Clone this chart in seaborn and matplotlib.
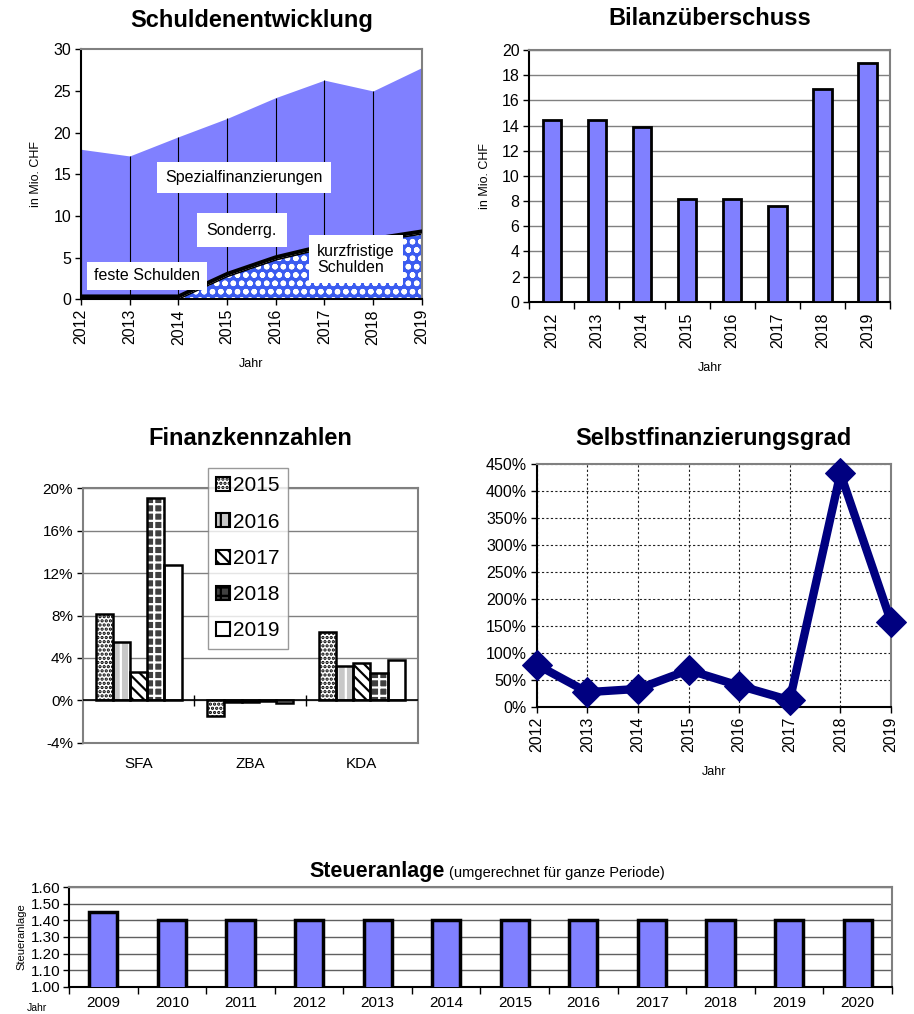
import numpy as np
import pandas as pd
import matplotlib
matplotlib.use("Agg")
import matplotlib.pyplot as plt
from matplotlib.patches import Rectangle, Patch
from matplotlib.ticker import FuncFormatter
import seaborn as sns

sns.set_theme(style="white")
plt.rcParams['font.family'] = ['Liberation Sans', 'DejaVu Sans']
plt.rcParams['hatch.linewidth'] = 1.6
plt.rcParams['text.color'] = 'black'
plt.rcParams['axes.labelcolor'] = 'black'
plt.rcParams['xtick.color'] = 'black'
plt.rcParams['ytick.color'] = 'black'

# ---------------- data ----------------
years = [2012, 2013, 2014, 2015, 2016, 2017, 2018, 2019]
kurzfristige = [0.0, 0.0, 0.0, 2.7, 4.7, 6.1, 6.9, 7.8]
feste = [0.2, 0.2, 0.2, 0.2, 0.2, 0.2, 0.2, 0.2]
sonder = [0.2, 0.2, 0.2, 0.2, 0.2, 0.2, 0.2, 0.2]
spezial = [17.6, 16.8, 19.1, 18.6, 19.1, 19.8, 17.7, 19.6]

bilanz = [14.4, 14.4, 13.9, 8.2, 8.2, 7.6, 16.9, 19.0]

kz_cats = ["SFA", "ZBA", "KDA"]
kz_years = ["2015", "2016", "2017", "2018", "2019"]
kz_2015 = [8.1, -1.5, 6.4]
kz_2016 = [5.5, -0.2, 3.2]
kz_2017 = [2.7, -0.2, 3.5]
kz_2018 = [19.1, -0.1, 2.6]
kz_2019 = [12.8, -0.3, 3.8]

sfg = [78, 27, 33, 68, 39, 12, 433, 158]

st_years = [2009, 2010, 2011, 2012, 2013, 2014, 2015, 2016, 2017, 2018, 2019, 2020]
st_vals = [1.45, 1.40, 1.40, 1.40, 1.40, 1.40, 1.40, 1.40, 1.40, 1.40, 1.40, 1.40]

W, H = 914, 1014
fig = plt.figure(figsize=(W / 100, H / 100), dpi=100)


def ax_px(l, t, r, b):
    return fig.add_axes([l / W, 1 - b / H, (r - l) / W, (b - t) / H])


PURPLE = '#8080ff'
GRAYB = '#808080'
TSIZE = 17

# ---------------- Schuldenentwicklung ----------------
ax1 = ax_px(81, 49.3, 421.7, 299.3)
polys = ax1.stackplot(years, kurzfristige, feste, sonder, spezial,
                      colors=['#3b5cf0', 'black', '#d8d8d8', PURPLE], linewidth=0)
polys[0].set_edgecolor('white')
polys[0].set_hatch('oo')
polys[0].set_linewidth(0)
lower = np.array(kurzfristige) + np.array(feste) + np.array(sonder)
total = lower + np.array(spezial)
ax1.plot(years, lower, color='black', lw=2.2, zorder=3)
ax1.plot(years, np.array(kurzfristige) + np.array(feste), color='black', lw=1.2, zorder=3)
ax1.vlines(years, lower, total, color='black', lw=0.8, zorder=3)
ax1.set_xlim(2012, 2019)
ax1.set_ylim(0, 30)
ax1.set_yticks([0, 5, 10, 15, 20, 25, 30])
ax1.set_xticks(years)
ax1.set_xticklabels([str(y) for y in years], rotation=90, fontsize=11.5)
ax1.tick_params(axis='y', labelsize=11.5, length=4, width=1, color='black', direction='out', left=True, pad=3)
ax1.tick_params(axis='x', length=4, width=1, color='black', direction='out', bottom=True, pad=3)
for s in ['left', 'bottom']:
    ax1.spines[s].set_color('black')
    ax1.spines[s].set_linewidth(1.5)
for s in ['top', 'right']:
    ax1.spines[s].set_color(GRAYB)
    ax1.spines[s].set_linewidth(1.5)
ax1.set_ylabel("in Mio. CHF", fontsize=9, labelpad=8)
ax1.set_xlabel("Jahr", fontsize=9, labelpad=10)
ax1.set_title("Schuldenentwicklung", fontsize=TSIZE, fontweight='bold', pad=16)
ax1.text(2015.35, 14.6, "Spezialfinanzierungen", fontsize=11.5, ha='center', va='center',
         bbox=dict(facecolor='white', edgecolor='none', pad=6), zorder=5)
ax1.text(2015.3, 8.3, "Sonderrg.", fontsize=11.5, ha='center', va='center',
         bbox=dict(facecolor='white', edgecolor='none', pad=7), zorder=5)
ax1.text(2013.35, 2.8, "feste Schulden", fontsize=11.5, ha='center', va='center',
         bbox=dict(facecolor='white', edgecolor='none', pad=5), zorder=5)
ax1.text(2016.85, 4.8, "kurzfristige\nSchulden", fontsize=11.5, ha='left', va='center', linespacing=1.1,
         bbox=dict(facecolor='white', edgecolor='none', pad=6), zorder=5)

# ---------------- Bilanzüberschuss ----------------
ax2 = ax_px(529.3, 50, 890, 301.7)
df2 = pd.DataFrame({"Jahr": [str(y) for y in years], "v": bilanz})
sns.barplot(data=df2, x="Jahr", y="v", color=PURPLE, saturation=1, width=0.41,
            edgecolor='black', linewidth=2, ax=ax2, zorder=3)
ax2.set_xlim(-0.5, len(years) - 0.5)
ax2.set_ylim(0, 20)
ax2.set_yticks(range(0, 21, 2))
ax2.yaxis.grid(True, color=GRAYB, lw=1)
ax2.set_axisbelow(True)
ax2.set_xticklabels([str(y) for y in years], rotation=90, fontsize=11.5)
ax2.tick_params(axis='x', length=0, pad=8)
ax2.set_xticks(np.arange(len(years) + 1) - 0.5, minor=True)
ax2.tick_params(axis='x', which='minor', length=5, width=1, color='black', bottom=True, direction='out')
ax2.tick_params(axis='y', labelsize=11.5, length=4, width=1, color='black', left=True, direction='out', pad=3)
for s in ['left', 'bottom']:
    ax2.spines[s].set_color('black')
    ax2.spines[s].set_linewidth(1.5)
for s in ['top', 'right']:
    ax2.spines[s].set_color(GRAYB)
    ax2.spines[s].set_linewidth(1.5)
ax2.set_ylabel("in Mio. CHF", fontsize=9, labelpad=8)
ax2.set_xlabel("Jahr", fontsize=9, labelpad=10)
ax2.set_title("Bilanzüberschuss", fontsize=TSIZE, fontweight='bold', pad=18)

# ---------------- Finanzkennzahlen ----------------
ax3 = ax_px(82.7, 488.3, 417.7, 742.7)
series = [kz_2015, kz_2016, kz_2017, kz_2018, kz_2019]
rows = []
for yr, vals in zip(kz_years, series):
    for c, v in zip(kz_cats, vals):
        rows.append({"cat": c, "Jahr": yr, "v": v})
df3 = pd.DataFrame(rows)
sns.barplot(data=df3, x="cat", y="v", hue="Jahr", width=0.77, gap=0, saturation=1,
            palette=['white'] * 5, linewidth=0, ax=ax3, legend=False, zorder=3)
styles = [
    dict(fc='white', hc='black', hatch='....'),
    dict(fc='#c8c8c8', hc='white', hatch='||'),
    dict(fc='white', hc='black', hatch='\\\\\\'),
    dict(fc='#404040', hc='white', hatch='++'),
    dict(fc='white', hc='white', hatch=None),
]
for cont, st in zip(ax3.containers, styles):
    for p in cont.patches:
        p.set_facecolor(st['fc'])
        p.set_edgecolor(st['hc'])
        p.set_linewidth(0)
        if st['hatch']:
            p.set_hatch(st['hatch'])
        ax3.add_patch(Rectangle(p.get_xy(), p.get_width(), p.get_height(), fill=False,
                                ec='black', lw=1.8, zorder=4))
ax3.set_xlim(-0.5, 2.5)
ax3.set_ylim(-4, 20)
ax3.set_yticks([-4, 0, 4, 8, 12, 16, 20])
ax3.yaxis.set_major_formatter(FuncFormatter(lambda v, _: f"{v:.0f}%"))
ax3.yaxis.grid(True, color=GRAYB, lw=1)
ax3.set_axisbelow(True)
ax3.axhline(0, color='black', lw=1.2, zorder=5)
ax3.vlines(np.arange(len(kz_cats) - 1) + 0.5, -0.5, 0.5, color='black', lw=1, zorder=5)
ax3.tick_params(axis='x', length=0, labelsize=11, pad=10)
ax3.tick_params(axis='y', labelsize=11, length=4, width=1, color='black', left=True, direction='out', pad=3)
for s in ax3.spines.values():
    s.set_color(GRAYB)
    s.set_linewidth(1.5)
ax3.set_xlabel("")
ax3.set_ylabel("")
ax3.set_title("Finanzkennzahlen", fontsize=TSIZE, fontweight='bold', pad=31)
handles = []
for yr, st in zip(kz_years, styles):
    handles.append(Patch(facecolor=st['fc'], edgecolor='black', hatch=st['hatch'], lw=1.5, label=yr))
leg = fig.legend(handles=handles, loc='upper left', bbox_to_anchor=(208 / W, 1 - 468 / H),
                 fontsize=15, frameon=True, fancybox=False, edgecolor=GRAYB,
                 handlelength=0.65, handleheight=0.65, handletextpad=0.15,
                 labelspacing=0.83, borderpad=0.4, borderaxespad=0)
leg.get_frame().set_linewidth(1)

# ---------------- Selbstfinanzierungsgrad ----------------
ax4 = ax_px(536.7, 464.3, 891, 706.7)
df4 = pd.DataFrame({"Jahr": years, "v": sfg})
sns.lineplot(data=df4, x="Jahr", y="v", color='#000080', lw=6, marker='D', markersize=15,
             markeredgecolor='#000080', ax=ax4, clip_on=False, zorder=5)
ax4.set_xlim(2012, 2019)
ax4.set_ylim(0, 450)
ax4.set_yticks(range(0, 451, 50))
ax4.yaxis.set_major_formatter(FuncFormatter(lambda v, _: f"{v:.0f}%"))
ax4.set_xticks(years)
ax4.set_xticklabels([str(y) for y in years], rotation=90, fontsize=11.5)
ax4.grid(True, color='#202020', lw=0.8, linestyle=(0, (2, 2)))
ax4.tick_params(axis='x', length=4, width=1, color='black', bottom=True, direction='out', pad=3)
ax4.tick_params(axis='y', labelsize=11.5, length=4, width=1, color='black', left=True, direction='out', pad=3)
for s in ['left', 'bottom']:
    ax4.spines[s].set_color('black')
    ax4.spines[s].set_linewidth(1.5)
for s in ['top', 'right']:
    ax4.spines[s].set_color(GRAYB)
    ax4.spines[s].set_linewidth(1.5)
ax4.set_ylabel("")
ax4.set_xlabel("Jahr", fontsize=9, labelpad=10)
ax4.set_title("Selbstfinanzierungsgrad", fontsize=TSIZE, fontweight='bold', pad=14)

# ---------------- Steueranlage ----------------
ax5 = ax_px(69, 887.3, 892, 986.7)
df5 = pd.DataFrame({"Jahr": [str(y) for y in st_years], "v": st_vals})
sns.barplot(data=df5, x="Jahr", y="v", color=PURPLE, saturation=1, width=0.41,
            edgecolor='black', linewidth=2.5, ax=ax5, zorder=3)
ax5.set_xlim(-0.5, len(st_years) - 0.5)
ax5.set_ylim(1.0, 1.6)
ax5.set_yticks([1.0, 1.1, 1.2, 1.3, 1.4, 1.5, 1.6])
ax5.yaxis.set_major_formatter(FuncFormatter(lambda v, _: f"{v:.2f}"))
ax5.yaxis.grid(True, color='#606060', lw=1)
ax5.set_axisbelow(True)
ax5.tick_params(axis='x', length=0, labelsize=11, pad=7)
ax5.set_xticks(np.arange(len(st_years) + 1) - 0.5, minor=True)
ax5.tick_params(axis='x', which='minor', length=5, width=1, color='black', bottom=True, direction='out')
ax5.tick_params(axis='y', labelsize=11, length=4, width=1, color='black', left=True, direction='out', pad=2)
for s in ['left', 'bottom']:
    ax5.spines[s].set_color('black')
    ax5.spines[s].set_linewidth(1.5)
for s in ['top', 'right']:
    ax5.spines[s].set_color(GRAYB)
    ax5.spines[s].set_linewidth(1.5)
ax5.set_xlabel("")
ax5.set_ylabel("Steueranlage", fontsize=8, labelpad=3)
fig.text(445 / W, 1 - 871 / H, "Steueranlage", fontsize=15.5, fontweight='bold', ha='right', va='center')
fig.text(449 / W, 1 - 873 / H, "(umgerechnet für ganze Periode)", fontsize=10.5, ha='left', va='center')
fig.text(37 / W, 1 - 1008 / H, "Jahr", fontsize=7.5, ha='center', va='center')

fig.savefig("out.png", dpi=100)
